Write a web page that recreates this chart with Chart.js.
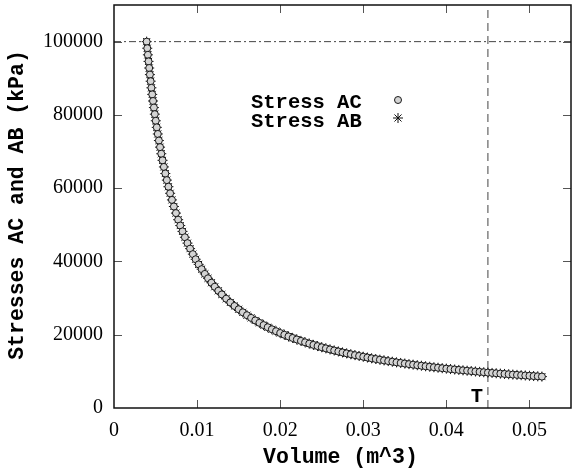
<!DOCTYPE html>
<html>
<head>
<meta charset="utf-8">
<title>Stresses AC and AB</title>
<script src="https://cdn.jsdelivr.net/npm/chart.js@4.4.1/dist/chart.umd.min.js"></script>
<style>
    body { margin: 0; background: #fff; }
    #wrap { width: 572px; height: 470px; }
</style>
</head>
<body>
<div id="wrap"><canvas id="stressChart"></canvas></div>
<script>

/* =========================
   DATOS
========================= */

const volume = [
    0.003930, 0.004003, 0.004078, 0.004157, 0.004238, 0.004323, 0.004411, 0.004503,
    0.004599, 0.004699, 0.004804, 0.004913, 0.005027, 0.005147, 0.005272, 0.005404,
    0.005543, 0.005689, 0.005843, 0.006005, 0.006177, 0.006358, 0.006551, 0.006756,
    0.006974, 0.007206, 0.007455, 0.007721, 0.007975, 0.008245, 0.008534, 0.008845,
    0.009157, 0.009492, 0.009828, 0.010189, 0.010548, 0.010933, 0.011315, 0.011724,
    0.012126, 0.012556, 0.012975,
    0.0135, 0.0140, 0.0145, 0.0150, 0.0155, 0.0160, 0.0165, 0.0170, 0.0175, 0.0180,
    0.0185, 0.0190, 0.0195, 0.0200, 0.0205, 0.0210, 0.0215, 0.0220, 0.0225, 0.0230,
    0.0235, 0.0240, 0.0245, 0.0250, 0.0255, 0.0260, 0.0265, 0.0270, 0.0275, 0.0280,
    0.0285, 0.0290, 0.0295, 0.0300, 0.0305, 0.0310, 0.0315, 0.0320, 0.0325, 0.0330,
    0.0335, 0.0340, 0.0345, 0.0350, 0.0355, 0.0360, 0.0365, 0.0370, 0.0375, 0.0380,
    0.0385, 0.0390, 0.0395, 0.0400, 0.0405, 0.0410, 0.0415, 0.0420, 0.0425, 0.0430,
    0.0435, 0.0440, 0.0445, 0.0450, 0.0455, 0.0460, 0.0465, 0.0470, 0.0475, 0.0480,
    0.0485, 0.0490, 0.0495, 0.0500, 0.0505, 0.0510, 0.0515
];

const stressAC = [
    100000, 98200, 96400, 94600, 92800, 91000, 89200, 87400,
    85600, 83800, 82000, 80200, 78400, 76600, 74800, 73000,
    71200, 69400, 67600, 65800, 64000, 62200, 60400, 58600,
    56800, 55000, 53200, 51400, 49800, 48200, 46600, 45000,
    43500, 42000, 40600, 39200, 37900, 36600, 35400, 34200,
    33100, 32000, 31000,
    29835, 28806, 27848, 26953, 26117, 25333, 24596, 23902, 23249, 22631,
    22047, 21494, 20969, 20470, 19996, 19544, 19113, 18702, 18309, 17933,
    17573, 17228, 16898, 16580, 16275, 15982, 15699, 15427, 15165, 14913,
    14669, 14434, 14206, 13987, 13774, 13568, 13369, 13176, 12989, 12808,
    12632, 12461, 12295, 12134, 11978, 11826, 11678, 11534, 11393, 11257,
    11124, 10994, 10868, 10745, 10625, 10508, 10393, 10282, 10173, 10067,
    9963, 9861, 9762, 9664, 9569, 9477, 9386, 9297, 9209, 9124,
    9041, 8959, 8879, 8800, 8723, 8647, 8573
];

// las dos tensiones coinciden punto a punto
const stressAB = stressAC;

const seriesNames = ["Stress AC", "Stress AB"];

const xTicks = [0, 0.01, 0.02, 0.03, 0.04, 0.05];
const yTicks = [0, 20000, 40000, 60000, 80000, 100000];

const xMin = 0, xMax = 0.055;
const yMin = 0, yMax = 110000;

const stressLimit = 100000;
const volumeLimit = 0.045;

const monoFamily = "'Liberation Mono', 'DejaVu Sans Mono', monospace";

document.addEventListener("DOMContentLoaded", function(){

    function toPoints(xs, ys){
        return xs.map(function(v, i){ return { x: v, y: ys[i] }; });
    }

    // sin relleno extra alrededor de las etiquetas de los extremos
    function noPadding(scale){
        scale.paddingTop = 0;
        scale.paddingBottom = 0;
        scale.paddingLeft = 0;
        scale.paddingRight = 0;
    }

    /* =========================
       MARCO, MARCAS, TEXTOS
    ========================= */

    const extras = {
        id: "extras",
        afterDraw: function(chart){
            const ctx = chart.ctx;
            const a = chart.chartArea;
            const xs = chart.scales.x;
            const ys = chart.scales.y;

            ctx.save();

            // marcas hacia dentro en los cuatro lados
            ctx.strokeStyle = "#555";
            ctx.lineWidth = 1;
            ctx.beginPath();
            xTicks.forEach(function(v){
                if(v === xMin) return;
                const px = Math.round(xs.getPixelForValue(v)) + 0.5;
                ctx.moveTo(px, a.bottom); ctx.lineTo(px, a.bottom - 8);
                ctx.moveTo(px, a.top); ctx.lineTo(px, a.top + 8);
            });
            yTicks.forEach(function(v){
                if(v === yMin) return;
                const py = Math.round(ys.getPixelForValue(v)) + 0.5;
                ctx.moveTo(a.left, py); ctx.lineTo(a.left + 8, py);
                ctx.moveTo(a.right, py); ctx.lineTo(a.right - 8, py);
            });
            ctx.stroke();

            // marco
            ctx.strokeStyle = "#111";
            ctx.lineWidth = 1.5;
            ctx.strokeRect(a.left, a.top, a.right - a.left, a.bottom - a.top);

            // etiqueta de la línea vertical
            ctx.fillStyle = "#000";
            ctx.font = "bold 20.5px " + monoFamily;
            ctx.textAlign = "center";
            ctx.textBaseline = "alphabetic";
            ctx.fillText("T", xs.getPixelForValue(volumeLimit) - 11, a.bottom - 6);

            // títulos de ejes
            ctx.font = "bold 21.5px " + monoFamily;
            ctx.textAlign = "left";
            ctx.fillText("Volume (m^3)", 263, 463);

            ctx.save();
            ctx.translate(18, 205);
            ctx.rotate(-Math.PI / 2);
            ctx.textAlign = "center";
            ctx.textBaseline = "middle";
            ctx.fillText("Stresses AC and AB (kPa)", 0, 0);
            ctx.restore();

            // leyenda: texto a la izquierda, símbolo a la derecha
            const ds = chart.data.datasets;
            ctx.font = "bold 20.5px " + monoFamily;
            ctx.textAlign = "left";
            ctx.textBaseline = "alphabetic";
            ctx.fillText(seriesNames[0], 251, 108);
            ctx.fillText(seriesNames[1], 251, 127);

            ctx.beginPath();
            ctx.arc(398, 100, ds[0].pointRadius, 0, Math.PI * 2);
            ctx.fillStyle = ds[0].pointBackgroundColor;
            ctx.fill();
            ctx.strokeStyle = ds[0].pointBorderColor;
            ctx.lineWidth = 1;
            ctx.stroke();

            const r = ds[1].pointRadius;
            ctx.strokeStyle = ds[1].pointBorderColor;
            ctx.beginPath();
            ctx.moveTo(398 - r, 118); ctx.lineTo(398 + r, 118);
            ctx.moveTo(398, 118 - r); ctx.lineTo(398, 118 + r);
            const d = r * 0.707;
            ctx.moveTo(398 - d, 118 - d); ctx.lineTo(398 + d, 118 + d);
            ctx.moveTo(398 - d, 118 + d); ctx.lineTo(398 + d, 118 - d);
            ctx.stroke();

            ctx.restore();
        }
    };

    /* =========================
       GRÁFICO DE TENSIONES
    ========================= */

    const canvas = document.getElementById("stressChart");

    new Chart(canvas, {

        type: "scatter",

        data: {
            datasets: [
                {
                    label: seriesNames[0],
                    data: toPoints(volume, stressAC),
                    pointStyle: "circle",
                    pointRadius: 3.5,
                    pointBorderWidth: 1,
                    pointBackgroundColor: "#d4d4d4",
                    pointBorderColor: "#1a1a1a",
                    order: 0
                },
                {
                    label: seriesNames[1],
                    data: toPoints(volume, stressAB),
                    pointStyle: "star",
                    pointRadius: 5,
                    pointBorderWidth: 1,
                    pointBackgroundColor: "#000",
                    pointBorderColor: "#111",
                    order: 1
                },
                {
                    type: "line",
                    data: [{ x: xMin, y: stressLimit }, { x: xMax, y: stressLimit }],
                    borderColor: "#444",
                    borderWidth: 1,
                    borderDash: [7, 3, 2, 3],
                    pointRadius: 0,
                    order: 2
                },
                {
                    type: "line",
                    data: [{ x: volumeLimit, y: yMin }, { x: volumeLimit, y: yMax }],
                    borderColor: "#444",
                    borderWidth: 1,
                    borderDash: [8, 5],
                    pointRadius: 0,
                    order: 2
                }
            ]
        },

        options: {

            responsive: true,
            maintainAspectRatio: false,
            animation: false,

            layout: {
                autoPadding: false,
                padding: { top: 5, right: 1, left: 0, bottom: 0 }
            },

            plugins: {
                legend: { display: false },
                tooltip: { enabled: false }
            },

            scales: {

                x: {
                    type: "linear",
                    min: xMin,
                    max: xMax,
                    grid: { display: false, drawTicks: false },
                    border: { display: false },
                    afterBuildTicks: function(scale){
                        scale.ticks = xTicks.map(function(v){ return { value: v }; });
                    },
                    afterFit: function(scale){
                        scale.height = 62;
                        noPadding(scale);
                    },
                    ticks: {
                        padding: 11,
                        color: "#000",
                        maxRotation: 0,
                        autoSkip: false,
                        font: { family: "'Liberation Serif', serif", size: 20 },
                        callback: function(v){ return String(v); }
                    }
                },

                y: {
                    type: "linear",
                    min: yMin,
                    max: yMax,
                    grid: { display: false, drawTicks: false },
                    border: { display: false },
                    afterBuildTicks: function(scale){
                        scale.ticks = yTicks.map(function(v){ return { value: v }; });
                    },
                    afterFit: function(scale){
                        scale.width = 114;
                        noPadding(scale);
                    },
                    ticks: {
                        padding: 11,
                        color: "#000",
                        autoSkip: false,
                        font: { family: "'Liberation Serif', serif", size: 20 },
                        callback: function(v){ return String(v); }
                    }
                }

            }

        },

        plugins: [extras]

    });

});
</script>
</body>
</html>
